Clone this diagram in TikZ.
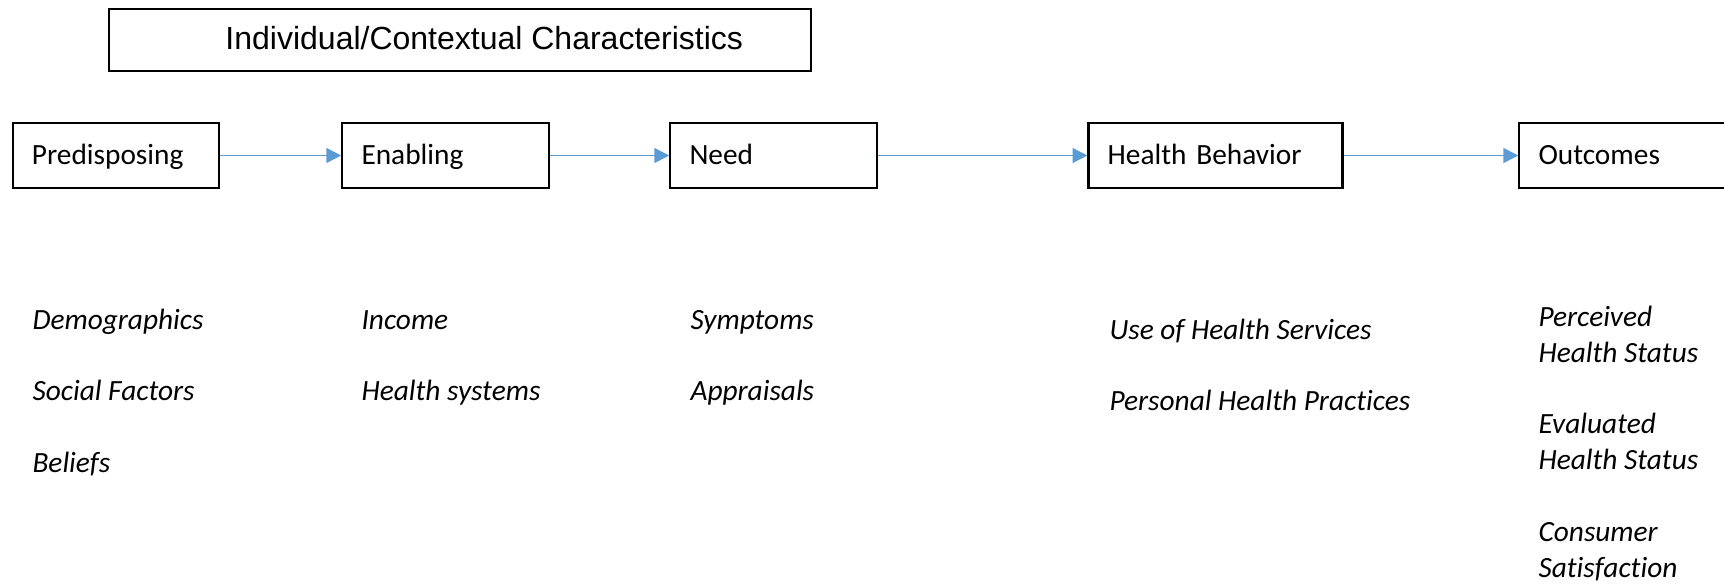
\documentclass[tikz,border=0pt]{standalone}
\usepackage{fontspec}
\setmainfont{Carlito}[Ligatures={NoCommon,NoContextual,NoRequired}]
\newfontfamily\arialfont{Liberation Sans}
\usetikzlibrary{arrows.meta}
\definecolor{wordblue}{HTML}{5B9BD5}

\begin{document}
\begin{tikzpicture}[
                x=0.375pt, y=-0.375pt,  % one unit is one pixel of the reference
                every node/.style={font=\fontsize{11}{13.5}\selectfont},
                ctxbox/.style={draw, line width=0.8pt, inner sep=0pt, minimum width=263.25pt, minimum height=23.25pt,
                               text height=8.2pt, text depth=1.4pt, font=\arialfont\fontsize{12}{14}\selectfont},
                stage/.style={draw, line width=0.8pt, align=left, inner xsep=7.2pt, inner ysep=0pt,
                              minimum height=24.6pt, text height=8.5pt, text depth=1.9pt},
                item/.style={anchor=base west, inner sep=0pt, align=left, font=\fontsize{11}{13.5}\selectfont\itshape},
                arrow/.style={draw=wordblue, line width=0.6pt, -{Triangle[length=5.6pt, width=5.6pt]}}
            ]
            % Page frame
            \useasboundingbox (0,0) rectangle (1724,584);

            % Heading box over the first stages
            \node[ctxbox] (ctx) at (460,40) {\hspace*{18.2pt}Individual/Contextual Characteristics};

            % Row of stages
            \node[stage, text width=63pt] (pre) at (115.9,155.5) {Predisposing};
            \node[stage, text width=63pt] (ena) at (445.5,155.5) {Enabling};
            \node[stage, text width=63pt] (need) at (773.5,155.5) {Need};
            \node[stage, text width=80.85pt] (beh) at (1215.5,155.5) {Health Behavior};
            \node[stage, text width=63pt] (out) at (1622.5,155.5) {Outcomes};

            % Arrows between the stages
            \draw[arrow] (pre) -- (ena);
            \draw[arrow] (ena) -- (need);
            \draw[arrow] (need) -- (beh);
            \draw[arrow] (beh) -- (out);

            % Predisposing factors
            \node[item] (demo) at (32,329) {Demographics};
            \node[item] (soc) at (32,400.5) {Social Factors};
            \node[item] (bel) at (32,472) {Beliefs};

            % Enabling factors
            \node[item] (inc) at (361,329) {Income};
            \node[item] (sys) at (361,400.5) {Health systems};

            % Need factors
            \node[item] (sym) at (690,329) {Symptoms};
            \node[item] (app) at (690,400.5) {Appraisals};

            % Health behaviors
            \node[item] (use) at (1109,339) {Use of Health Services};
            \node[item] (prac) at (1109,410) {Personal Health Practices};

            % Outcomes (two lines each, placed by the lower line)
            \node[item] (perc) at (1538,362) {Perceived\\Health Status};
            \node[item] (eval) at (1538,469) {Evaluated\\Health Status};
            \node[item] (sat) at (1538,577) {Consumer\\Satisfaction};

        \end{tikzpicture}
\end{document}
